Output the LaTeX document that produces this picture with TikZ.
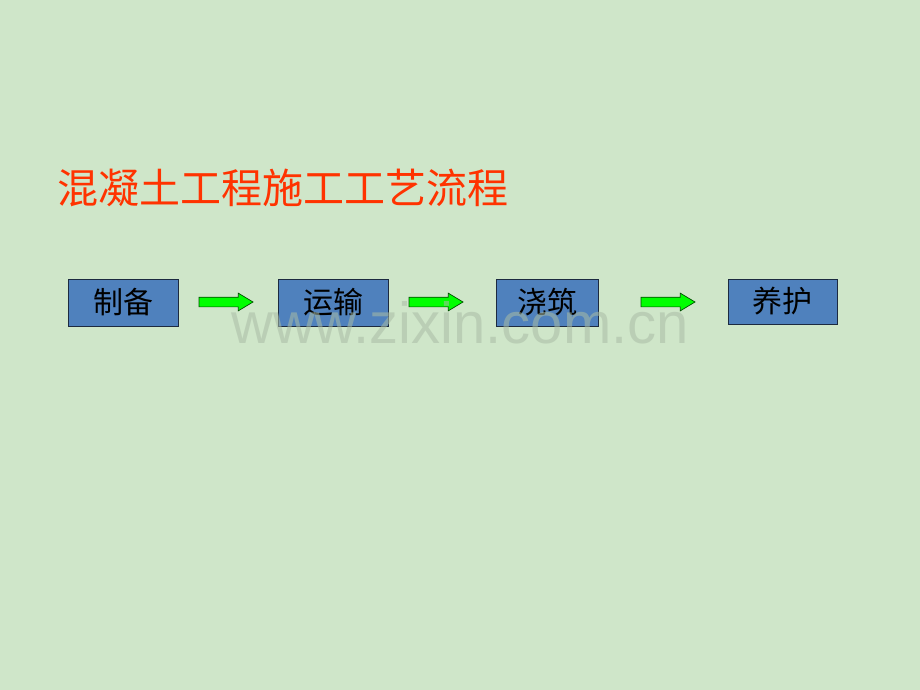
\documentclass[tikz,border=0pt]{standalone}
\usepackage{fontspec}
\setmainfont{Liberation Sans}
\newfontfamily\cjk{Noto Sans CJK SC}
\usetikzlibrary{shapes.arrows}
\definecolor{bgc}{HTML}{CFE6C9}
\definecolor{titlered}{HTML}{FF3300}
\definecolor{boxblue}{HTML}{4F81BD}
\definecolor{boxedge}{HTML}{1C2A40}
\definecolor{arrgreen}{HTML}{00FF00}
\definecolor{wmark}{HTML}{A9BCA5}
\newcommand{\boxtext}[1]{\raisebox{-3pt}{#1}}
\tikzset{
  stepbox/.style={draw=boxedge, line width=1pt, fill=boxblue, inner sep=0pt,
    font=\cjk\fontsize{30}{32}\selectfont, text=black},
  flowarrow/.style={single arrow, draw=black!70!green, line width=0.7pt, fill=arrgreen,
    inner sep=0pt, text height=9pt, text depth=0pt, minimum height=54pt,
    single arrow head extend=4pt, single arrow tip angle=62, single arrow head indent=0pt},
}
\begin{document}
\begin{tikzpicture}[x=1pt,y=-1pt]
\useasboundingbox[fill=bgc] (0,0) rectangle (920,690);
\node[anchor=west, inner sep=0pt, text=titlered, font=\cjk\fontsize{41}{44}\selectfont] (title) at (57,188) {混凝土工程施工工艺流程};
\node[stepbox, minimum width=110pt, minimum height=47pt] (b1) at (123,302.5) {\boxtext{制备}};
\node[stepbox, minimum width=110pt, minimum height=47pt] (b2) at (333,302.5) {\boxtext{运输}};
\node[stepbox, minimum width=102pt, minimum height=47pt] (b3) at (547,302.5) {\boxtext{浇筑}};
\node[stepbox, minimum width=109pt, minimum height=45pt] (b4) at (782.5,301.5) {\boxtext{养护}};
\node[flowarrow] (a1) at (222,302) {};
\node[flowarrow] (a2) at (432,302) {};
\node[flowarrow] (a3) at (664,302) {};
\node[anchor=base west, inner sep=0pt, text=wmark, opacity=0.55, font=\fontsize{58}{60}\selectfont] (wm) at (231,343) {www.zixin.com.cn};
\end{tikzpicture}
\end{document}
